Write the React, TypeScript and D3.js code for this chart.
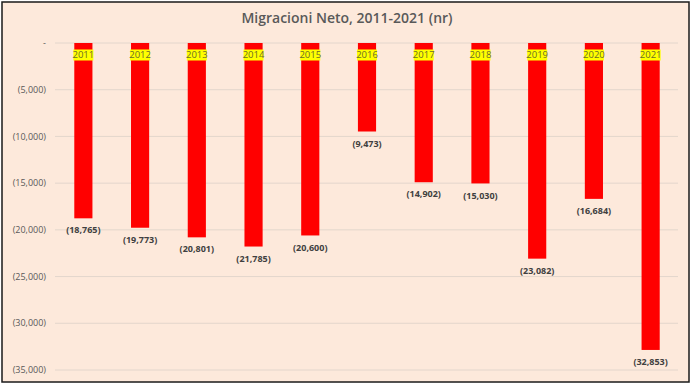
import React, { useEffect, useRef } from 'react';
import * as d3 from 'd3';

const years = ['2011', '2012', '2013', '2014', '2015', '2016', '2017', '2018', '2019', '2020', '2021'];
const netMigration = [-18765, -19773, -20801, -21785, -20600, -9473, -14902, -15030, -23082, -16684, -32853];
const yTicks = [0, -5000, -10000, -15000, -20000, -25000, -30000, -35000];

const fmt = (v: number) => (v === 0 ? '-' : `(${d3.format(',')(Math.abs(v))})`);

export default function App() {
  const svgRef = useRef<SVGSVGElement>(null);

  useEffect(() => {
    if (!svgRef.current) return;
    const width = 694;
    const height = 386;
    const margin = { top: 43, right: 15, bottom: 16, left: 55 };

    const svg = d3.select(svgRef.current)
      .attr('width', width)
      .attr('height', height)
      .style('font-family', 'Open Sans, Calibri, sans-serif');
    svg.selectAll('*').remove();

    svg.append('rect')
      .attr('x', 2).attr('y', 2)
      .attr('width', 687).attr('height', 380)
      .attr('fill', '#fde9db')
      .attr('stroke', '#1a1a1a')
      .attr('stroke-width', 1.5);

    svg.append('text')
      .attr('x', 347).attr('y', 23)
      .attr('text-anchor', 'middle')
      .attr('fill', '#595959')
      .style('font-size', '14px')
      .style('font-weight', '600')
      .text('Migracioni Neto, 2011-2021 (nr)');

    const x = d3.scaleBand<string>()
      .domain(years)
      .range([margin.left, 679])
      .paddingInner(0.68)
      .paddingOuter(0.34);

    const y = d3.scaleLinear()
      .domain([0, -35000])
      .range([margin.top, 370]);

    const g = svg.append('g');

    // grid
    g.selectAll('.grid')
      .data(yTicks)
      .enter().append('line')
      .attr('x1', margin.left).attr('x2', 678)
      .attr('y1', d => y(d)).attr('y2', d => y(d))
      .attr('stroke', '#e3d6cc')
      .attr('stroke-width', 1);

    g.selectAll('.ytick')
      .data(yTicks)
      .enter().append('text')
      .attr('x', 46)
      .attr('y', d => y(d))
      .attr('dy', '0.35em')
      .attr('text-anchor', 'end')
      .attr('fill', '#595959')
      .style('font-size', '9px')
      .text(d => fmt(d));

    // bars
    g.selectAll('.bar')
      .data(netMigration)
      .enter().append('rect')
      .attr('x', (_, i) => x(years[i])!)
      .attr('y', y(0))
      .attr('width', x.bandwidth())
      .attr('height', d => y(d) - y(0))
      .attr('fill', '#ff0000');

    // year labels on yellow
    const yl = g.selectAll('.yl')
      .data(years)
      .enter().append('g')
      .attr('transform', d => `translate(${x(d)! + x.bandwidth() / 2},55)`);
    yl.append('rect')
      .attr('x', -10).attr('y', -5.5)
      .attr('width', 20).attr('height', 11)
      .attr('fill', '#ffff00');
    yl.append('text')
      .attr('text-anchor', 'middle')
      .attr('dy', '0.35em')
      .attr('fill', '#6b6b2a')
      .style('font-size', '9.5px')
      .text(d => d);

    // value labels
    g.selectAll('.vl')
      .data(netMigration)
      .enter().append('text')
      .attr('x', (_, i) => x(years[i])! + x.bandwidth() / 2)
      .attr('y', d => y(d) + 12)
      .attr('dy', '0.35em')
      .attr('text-anchor', 'middle')
      .attr('fill', '#404040')
      .style('font-size', '9px')
      .style('font-weight', '700')
      .text(d => fmt(d));
  }, []);

  return (
    <div style={{ position: 'fixed', left: 0, top: 0 }}>
      <svg ref={svgRef}></svg>
    </div>
  );
}
